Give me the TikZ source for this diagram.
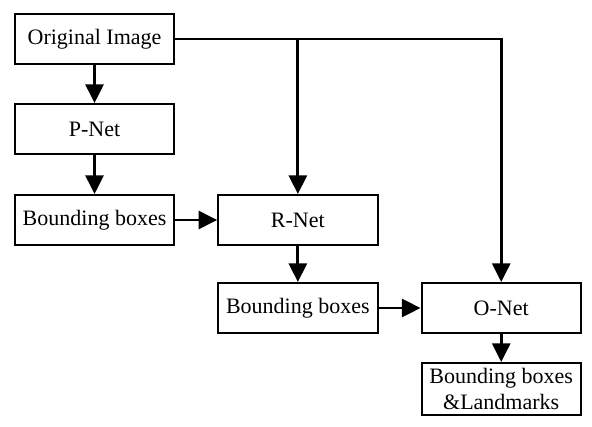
\documentclass[tikz,border=0pt]{standalone}
\usepackage{fontspec}
\setmainfont{Liberation Serif}
\usepackage{tikz}
\usetikzlibrary{arrows.meta,calc,positioning}

\begin{document}
\begin{tikzpicture}
    [stage/.style={rectangle, draw, line width=1.5pt, minimum width=119.5pt,
    minimum height=37.5pt, inner sep=2pt, align=center,
    font=\fontsize{16.5}{19.5}\selectfont},
    flow/.style={line width=2.2pt, ->},
    >={Triangle[width=13.5pt,length=14pt]}]

  \useasboundingbox (0,0) rectangle (444pt,-319.5pt);

  \node[stage] (orig) at (70.9pt,-29.25pt) {Original Image};
  \node[stage, below=28.5pt of orig] (pnet) {P-Net};
  \node[stage, below=29.25pt of pnet] (bb_p) {Bounding boxes};
  \node[stage, right=31.5pt of bb_p] (rnet) {R-Net};
  \node[stage, below=27pt of rnet] (bb_r) {Bounding boxes};
  \node[stage, right=31.5pt of bb_r] (onet) {O-Net};
  \node[stage, below=21pt of onet, minimum height=39pt, inner sep=1pt] (bb_o)
    {Bounding boxes\\\&Landmarks};

  \draw[flow] (orig) -- (pnet);
  \draw[flow] (pnet) -- (bb_p);
  \draw[flow] (bb_p) -- (rnet);
  \draw[flow] (rnet) -- (bb_r);
  \draw[flow] (bb_r) -- (onet);
  \draw[flow] (onet) -- (bb_o);
  \draw[flow] (orig.east) -| (onet.north);
  \draw[flow] (orig.east -| rnet.north) -- (rnet.north);

\end{tikzpicture}
\end{document}
